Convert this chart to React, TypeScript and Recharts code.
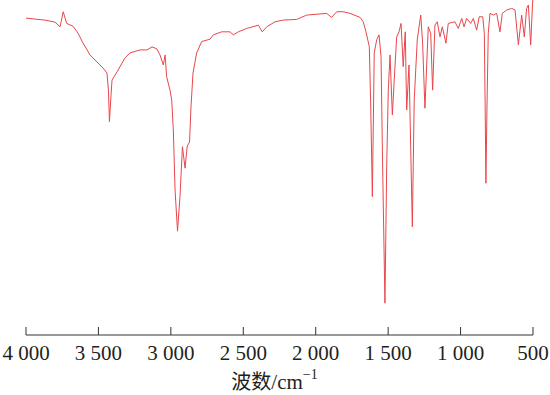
import React from 'react';
import { LineChart, Line, XAxis, YAxis } from 'recharts';

// wavenumber (cm-1) from left to right
const wavenumbers = [
  4000, 3938, 3869, 3800, 3765, 3743, 3719, 3676, 3641, 3607,
  3558, 3510, 3468, 3441, 3431, 3424, 3413, 3406, 3372, 3317,
  3282, 3213, 3165, 3130, 3096, 3075, 3052, 3040, 3029, 3006,
  2994, 2983, 2971, 2954, 2937, 2920, 2902, 2887, 2871, 2861,
  2847, 2822, 2787, 2730, 2707, 2649, 2592, 2569, 2534, 2477,
  2396, 2369, 2338, 2281, 2224, 2131, 2062, 1924, 1890, 1855,
  1810, 1763, 1694, 1672, 1653, 1630, 1621, 1609, 1596, 1579,
  1563, 1549, 1538, 1522, 1510, 1499, 1487, 1471, 1458, 1441,
  1425, 1411, 1396, 1382, 1372, 1356, 1344, 1333, 1320, 1299,
  1275, 1262, 1246, 1223, 1206, 1193, 1177, 1161, 1142, 1126,
  1101, 1085, 1039, 1016, 992, 976, 958, 930, 912, 889,
  871, 847, 836, 830, 825, 818, 809, 797, 774, 751,
  728, 712, 682, 647, 624, 601, 578, 560, 544, 532,
  516, 502,
];

// transmittance (%), same order
const transmittance = [
  94.6, 94.3, 94.0, 93.4, 92.0, 96.5, 93.0, 92.2, 90.1, 87.2,
  83.6, 81.5, 79.7, 78.2, 73.1, 63.7, 71.6, 76.1, 78.5, 82.7,
  84.2, 85.1, 85.1, 86.0, 85.4, 83.6, 80.6, 83.6, 77.1, 73.1,
  70.1, 61.2, 43.3, 31.0, 41.3, 56.2, 49.8, 56.4, 57.6, 68.1,
  78.2, 84.2, 87.6, 88.3, 89.6, 90.5, 90.5, 89.6, 90.5, 91.5,
  92.5, 90.5, 92.0, 93.5, 94.0, 94.2, 95.5, 96.0, 94.8, 96.5,
  96.5, 96.0, 94.8, 93.5, 90.5, 86.1, 70.1, 41.3, 84.2, 88.1,
  89.6, 83.1, 50.2, 9.5, 50.2, 73.1, 83.6, 65.7, 76.1, 89.0,
  90.5, 93.0, 80.1, 90.5, 67.2, 80.6, 55.2, 32.3, 70.1, 88.1,
  95.5, 87.1, 67.7, 92.0, 90.0, 73.1, 92.5, 93.5, 89.0, 92.0,
  87.1, 93.0, 93.5, 91.5, 94.5, 92.0, 94.5, 93.0, 94.5, 91.0,
  95.0, 95.0, 90.0, 67.2, 45.3, 67.2, 90.0, 96.0, 95.5, 96.0,
  90.5, 96.0, 97.0, 97.5, 97.0, 86.6, 95.5, 89.0, 97.5, 98.5,
  86.6, 100,
];

const xTicks = [4000, 3500, 3000, 2500, 2000, 1500, 1000, 500];

const data = wavenumbers.map((wn, i) => ({ wn, t: transmittance[i] }));

const fmt = (n: number) =>
  n >= 1000 ? `${Math.floor(n / 1000)} ${String(n % 1000).padStart(3, '0')}` : String(n);

const SERIF = '"Liberation Serif", "DejaVu Serif", serif';

// ticks point up into the plot, label sits below the axis line
const Tick = (props: any) => {
  const { x, y, payload } = props;
  return (
    <g>
      <line x1={x} y1={y - 8} x2={x} y2={y} stroke="#333" strokeWidth={1} />
      <text
        x={x}
        y={y + 25}
        textAnchor="middle"
        fill="#231f20"
        style={{ fontSize: 21, fontFamily: SERIF }}
      >
        {fmt(payload.value)}
      </text>
    </g>
  );
};

const AxisTitle = (props: any) => {
  const vb = props.viewBox || {};
  const cx = vb.x + vb.width / 2 - 5;
  return (
    <text
      x={cx}
      y={389}
      textAnchor="middle"
      fill="#231f20"
      style={{ fontSize: 21, fontFamily: SERIF }}
    >
      <tspan style={{ fontFamily: '"Noto Sans CJK SC", sans-serif', fontSize: 20 }}>波数</tspan>
      <tspan>/cm</tspan>
      <tspan dy={-10} style={{ fontSize: 14 }}>−1</tspan>
    </text>
  );
};

export default function App() {
  return (
    <div style={{ position: 'absolute', left: 0, top: 0, background: '#fff' }}>
      <LineChart
        width={550}
        height={395}
        data={data}
        margin={{ top: 0, right: 17, left: 26, bottom: 0 }}
      >
        <XAxis
          dataKey="wn"
          type="number"
          domain={[500, 4000]}
          reversed
          ticks={xTicks}
          interval={0}
          height={60}
          tickSize={0}
          tickMargin={0}
          tickLine={false}
          axisLine={{ stroke: '#333', strokeWidth: 1 }}
          tick={<Tick />}
          label={{ content: AxisTitle }}
        />
        <YAxis hide domain={[0, 100]} type="number" />
        <Line
          type="linear"
          dataKey="t"
          stroke="#e8474c"
          strokeWidth={1}
          dot={false}
          activeDot={false}
          isAnimationActive={false}
        />
      </LineChart>
    </div>
  );
}
